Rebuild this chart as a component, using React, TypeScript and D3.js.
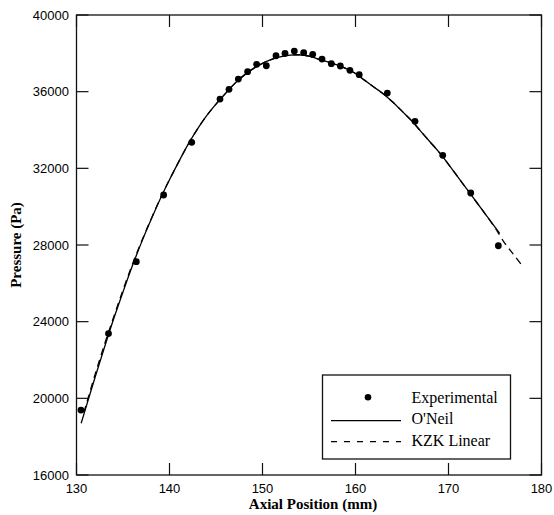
import React from "react";
import * as d3 from "d3";

const expX = [130.48, 133.44, 136.43, 139.37, 142.39, 145.43, 146.4, 147.4, 148.4, 149.37, 150.41, 151.45, 152.42, 153.42, 154.43, 155.4, 156.4, 157.4, 158.37, 159.4, 160.4, 163.42, 166.4, 169.38, 172.39, 175.36];
const expY = [19390, 23380, 27130, 30608, 33357, 35616, 36122, 36659, 37041, 37425, 37353, 37875, 38000, 38120, 38032, 37949, 37703, 37459, 37338, 37113, 36885, 35929, 34452, 32680, 30712, 27962];

const oneilX = [130.5, 131, 132, 133, 134, 135, 136, 137, 138, 139, 140, 141, 142, 143, 144, 145, 146, 147, 148, 149, 150, 151, 152, 153, 154, 155, 156, 157, 158, 159, 160, 161, 162, 163, 164, 165, 166, 167, 168, 169, 170, 171, 172, 173, 174, 175, 175.5];
const oneilY = [18700, 19500, 21100, 22650, 24150, 25550, 26900, 28150, 29300, 30400, 31400, 32350, 33250, 34050, 34750, 35350, 35900, 36420, 36850, 37200, 37480, 37690, 37830, 37910, 37920, 37850, 37700, 37560, 37400, 37200, 36950, 36590, 36235, 35880, 35456, 34983, 34500, 33944, 33387, 32830, 32212, 31555, 30897, 30243, 29590, 28937, 28610];

const kzkX = [130.8, 131, 132, 133, 134, 135, 136, 137, 138, 139, 140, 141, 142, 143, 144, 145, 146, 147, 148, 149, 150, 151, 152, 153, 154, 155, 156, 157, 158, 159, 160, 161, 162, 163, 164, 165, 166, 167, 168, 169, 170, 171, 172, 173, 174, 175, 176, 177, 178];
const kzkY = [19250, 19600, 21250, 22800, 24250, 25650, 26980, 28200, 29330, 30420, 31410, 32350, 33250, 34050, 34750, 35350, 35900, 36420, 36850, 37200, 37480, 37690, 37830, 37910, 37920, 37850, 37700, 37560, 37400, 37200, 36950, 36590, 36235, 35880, 35456, 34983, 34500, 33944, 33387, 32830, 32212, 31555, 30897, 30243, 29590, 28900, 28130, 27500, 26880];

const xTicks = [130, 140, 150, 160, 170, 180];
const yTicks = [16000, 20000, 24000, 28000, 32000, 36000, 40000];
const legendLabels = ["Experimental", "O'Neil", "KZK Linear"];

export default function App() {
  const L = 76.5, R = 541.5, T = 15, B = 475;
  const x = d3.scaleLinear().domain([130, 180]).range([L, R]);
  const y = d3.scaleLinear().domain([16000, 40000]).range([B, T]);
  const line = d3
    .line<[number, number]>()
    .x((d) => x(d[0]))
    .y((d) => y(d[1]))
    .curve(d3.curveCatmullRom);
  const oneil = line(oneilX.map((v, i) => [v, oneilY[i]]) as [number, number][]) || "";
  const kzk = line(kzkX.map((v, i) => [v, kzkY[i]]) as [number, number][]) || "";
  const tickLen = 12;
  const sans = "Liberation Sans, Arial, sans-serif";
  const serif = "Liberation Serif, Times New Roman, serif";
  const lx = 322.5, ly = 375, lw = 188, lh = 84;
  return (
    <svg
      width={554}
      height={515}
      style={{ position: "absolute", left: 0, top: 0, background: "#fff" }}
    >
      <rect x={0} y={0} width={554} height={515} fill="#fff" />
      {/* curves */}
      <path d={kzk} fill="none" stroke="#000" strokeWidth={1.3} strokeDasharray="7,5" />
      <path d={oneil} fill="none" stroke="#000" strokeWidth={1.3} />
      {expX.map((v, i) => (
        <circle key={i} cx={x(v)} cy={y(expY[i])} r={3.4} fill="#000" />
      ))}
      {/* frame */}
      <rect x={L} y={T} width={R - L} height={B - T} fill="none" stroke="#111" strokeWidth={1.3} />
      {xTicks.map((t) => (
        <g key={"x" + t}>
          <line x1={x(t)} x2={x(t)} y1={B} y2={B - tickLen} stroke="#111" strokeWidth={1.2} />
          <line x1={x(t)} x2={x(t)} y1={T} y2={T + tickLen} stroke="#111" strokeWidth={1.2} />
          <text x={x(t)} y={493} textAnchor="middle" fontFamily={sans} fontSize={13} fill="#000">
            {t}
          </text>
        </g>
      ))}
      {yTicks.map((t) => (
        <g key={"y" + t}>
          <line x1={L} x2={L + tickLen} y1={y(t)} y2={y(t)} stroke="#111" strokeWidth={1.2} />
          <line x1={R} x2={R - tickLen} y1={y(t)} y2={y(t)} stroke="#111" strokeWidth={1.2} />
          <text x={69} y={y(t)} dy="0.35em" textAnchor="end" fontFamily={sans} fontSize={13} fill="#000">
            {t}
          </text>
        </g>
      ))}
      <text x={313} y={509} textAnchor="middle" fontFamily={serif} fontWeight="bold" fontSize={15} fill="#000">
        Axial Position (mm)
      </text>
      <text
        transform={`translate(21,${(T + B) / 2}) rotate(-90)`}
        textAnchor="middle"
        fontFamily={serif}
        fontWeight="bold"
        fontSize={15}
        fill="#000"
      >
        Pressure (Pa)
      </text>
      {/* legend */}
      <rect x={lx} y={ly} width={lw} height={lh} fill="#fff" stroke="#111" strokeWidth={1.3} />
      <circle cx={368} cy={397.3} r={3.3} fill="#000" />
      <line x1={331} x2={401} y1={420.7} y2={420.7} stroke="#000" strokeWidth={1.2} />
      <line x1={331} x2={401} y1={441.7} y2={441.7} stroke="#000" strokeWidth={1.2} strokeDasharray="6,7" />
      {legendLabels.map((s, i) => (
        <text key={s} x={411.5} y={402.5 + i * 21.5} fontFamily={serif} fontSize={16} fill="#000">
          {s}
        </text>
      ))}
    </svg>
  );
}
